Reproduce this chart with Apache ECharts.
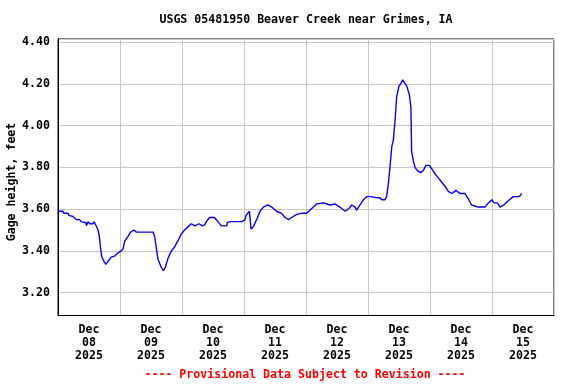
<!DOCTYPE html>
<html>
<head>
<meta charset="utf-8">
<script src="https://cdn.jsdelivr.net/npm/echarts@6/dist/echarts.min.js"></script>
<style>html,body{margin:0;padding:0;background:#fff}#c{width:576px;height:384px}</style>
</head>
<body>
<div id="c"></div>
<script>
// Day labels (category bands, each centred at noon)
var dayLabels = ['Dec\n08\n2025','Dec\n09\n2025','Dec\n10\n2025','Dec\n11\n2025','Dec\n12\n2025','Dec\n13\n2025','Dec\n14\n2025','Dec\n15\n2025'];
// Hours since 2025-12-08 00:00
var hours = [0,1.9,2.2,3.9,4.2,5.8,7.1,8.4,9.0,10.8,11.0,11.6,12.3,13.5,13.9,14.8,15.5,16.0,16.5,17.0,17.8,18.5,19.4,20.6,21.9,23.2,24.5,25.2,25.8,27.1,28.1,29.4,30.3,36.8,37.4,38.1,38.7,40.0,40.8,41.5,42.6,43.9,45.2,46.5,47.7,49.0,50.3,51.6,53.0,54.5,56.0,56.8,57.4,58.7,60.6,61.9,63.2,65.3,65.5,66.6,71.1,72.4,72.8,74.1,74.7,75.6,76.9,78.2,79.5,81.2,82.7,84.6,86.6,87.9,89.2,90.4,92.4,94.3,96.2,97.5,100.1,102.7,105.3,107.2,109.1,111.1,112.4,113.7,115.0,115.6,116.9,118.2,119.5,121.0,123.3,124.6,125.3,126.6,127.2,127.9,128.5,129.2,129.8,130.5,131.1,132.0,132.6,133.4,134.1,135.0,136.0,136.6,136.9,137.5,138.2,139.1,140.4,141.4,142.4,143.7,144.6,145.9,147.2,148.5,149.8,151.1,152.4,154.1,155.6,157.5,158.8,160.1,162.7,165.3,166.6,167.9,168.8,170.1,171.1,172.6,174.3,176.2,178.6,179.5];
// Gage height, feet
var gageHeight = [3.59,3.59,3.58,3.58,3.57,3.565,3.55,3.55,3.54,3.535,3.52,3.54,3.53,3.53,3.54,3.52,3.50,3.47,3.41,3.37,3.35,3.335,3.35,3.37,3.375,3.39,3.40,3.41,3.445,3.47,3.49,3.50,3.49,3.49,3.47,3.41,3.36,3.32,3.305,3.32,3.365,3.40,3.42,3.45,3.48,3.50,3.515,3.53,3.52,3.53,3.52,3.525,3.54,3.56,3.56,3.54,3.52,3.52,3.535,3.54,3.54,3.55,3.57,3.59,3.505,3.515,3.55,3.59,3.61,3.62,3.61,3.59,3.58,3.56,3.55,3.56,3.575,3.58,3.58,3.595,3.625,3.63,3.62,3.625,3.61,3.59,3.60,3.62,3.61,3.595,3.62,3.645,3.66,3.66,3.655,3.655,3.645,3.645,3.66,3.725,3.80,3.90,3.93,4.03,4.14,4.19,4.20,4.22,4.215,4.19,4.15,4.09,3.875,3.835,3.80,3.785,3.775,3.785,3.81,3.81,3.795,3.77,3.75,3.73,3.71,3.685,3.675,3.69,3.675,3.675,3.65,3.62,3.61,3.61,3.63,3.645,3.63,3.63,3.61,3.62,3.64,3.66,3.66,3.675];
var yTicks = ['3.20','3.40','3.60','3.80','4.00','4.20','4.40'];

var FONT = 'DejaVu Sans Mono';
var FS = 11.6;
var data = hours.map(function(h, i){ return [h, gageHeight[i]]; });

var chart = echarts.init(document.getElementById('c'), null, {renderer:'canvas'});
chart.setOption({
  animation: false,
  backgroundColor: '#ffffff',
  grid: {left: 58, right: 22, top: 39, bottom: 68.5, show: true, borderColor: '#000', borderWidth: 1, containLabel: false},
  xAxis: [{
    type: 'category', data: dayLabels, boundaryGap: true,
    axisLine: {show: true, lineStyle: {color: '#000', width: 1}},
    axisTick: {show: false},
    splitLine: {show: true, interval: 0, lineStyle: {color: '#c8c8c8', width: 1}},
    axisLabel: {interval: 0, margin: 8, color: '#000', fontFamily: FONT, fontWeight: 'bold', fontSize: FS, lineHeight: 12.8, align: 'center'}
  },{
    type: 'value', min: 0, max: 192, show: false
  }],
  yAxis: {
    type: 'value', min: 3.09, max: 4.416, splitNumber: 6,
    axisLine: {show: true, lineStyle: {color: '#000', width: 1}},
    axisTick: {show: false},
    splitLine: {show: true, lineStyle: {color: '#c8c8c8', width: 1}},
    axisLabel: {margin: 8, color: '#000', fontFamily: FONT, fontWeight: 'bold', fontSize: FS,
      formatter: function(v){ var s = v.toFixed(2); return yTicks.indexOf(s) >= 0 ? s : ''; }}
  },
  series: [{
    type: 'line', xAxisIndex: 1, data: data, showSymbol: false, symbol: 'none',
    lineStyle: {color: '#0000ff', width: 1.4}, silent: true
  }],
  graphic: [
    {type: 'text', x: 306, y: 20, style: {text: 'USGS 05481950 Beaver Creek near Grimes, IA', fontFamily: FONT, fontWeight: 'bold', fontSize: FS, fill: '#000', align: 'center', verticalAlign: 'middle'}},
    {type: 'text', x: 12, y: 182, rotation: Math.PI/2, style: {text: 'Gage height, feet', fontFamily: FONT, fontWeight: 'bold', fontSize: FS, fill: '#000', align: 'center', verticalAlign: 'middle'}},
    {type: 'text', x: 305, y: 375, style: {text: '---- Provisional Data Subject to Revision ----', fontFamily: FONT, fontWeight: 'bold', fontSize: FS, fill: '#ff0000', align: 'center', verticalAlign: 'middle'}}
  ]
});
</script>
</body>
</html>
